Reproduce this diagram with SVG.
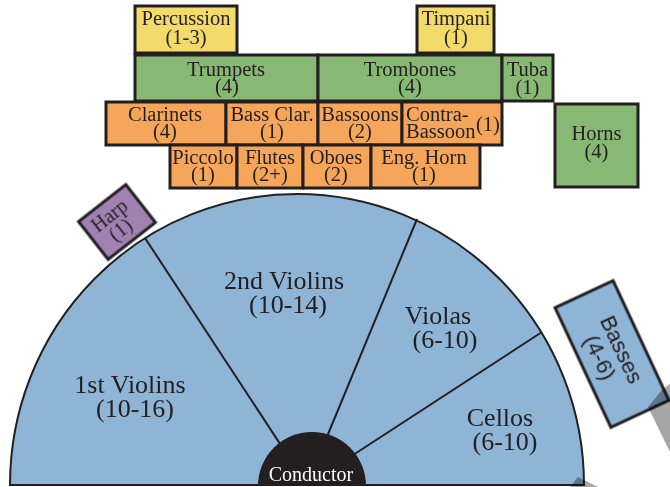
<svg xmlns="http://www.w3.org/2000/svg" width="670" height="487" viewBox="0 0 670 487">
<style>
.box{stroke:#231f20;stroke-width:3}
.yel{fill:#f2da6b}
.grn{fill:#87b874}
.org{fill:#f5a65b}
.t{font-family:"Liberation Serif","Times New Roman",serif;font-size:20.5px;fill:#231f20;text-anchor:middle}
.big{font-family:"Liberation Serif","Times New Roman",serif;font-size:26px;fill:#231f20;text-anchor:middle}
.div{stroke:#231f20;stroke-width:2;fill:none}
.shadow{fill:#a6a6a6;mix-blend-mode:multiply}
</style>
<rect width="670" height="487" fill="#ffffff"/>

<g id="stage">
<path d="M 10 485 A 287 291 0 0 1 584 485 Z" fill="#8eb4d6" stroke="#231f20" stroke-width="2"/>
</g>
<g id="connectors">
<line class="div" x1="307" y1="485" x2="145" y2="238"/>
<line class="div" x1="307" y1="485" x2="417" y2="219"/>
<line class="div" x1="307" y1="485" x2="542" y2="332"/>
</g>
<polygon class="shadow" points="570,487 578,477 598,487"/>

<g id="first-violins"><text class="big" x="130" y="393">1st Violins</text><text class="big" x="135" y="417">(10-16)</text></g>
<g id="second-violins"><text class="big" x="284" y="289">2nd Violins</text><text class="big" x="288" y="313">(10-14)</text></g>
<g id="violas"><text class="big" x="438" y="324">Violas</text><text class="big" x="445" y="348">(6-10)</text></g>
<g id="cellos"><text class="big" x="500" y="426">Cellos</text><text class="big" x="505" y="450">(6-10)</text></g>

<g id="conductor">
<path d="M 258 486 A 54 54 0 0 1 366 486 Z" fill="#231f20"/>
<text x="311" y="481" font-family="Liberation Serif, Times New Roman, serif" font-size="20" fill="#ffffff" text-anchor="middle">Conductor</text>
</g>

<g id="percussion"><rect class="box yel" x="135" y="6" width="102" height="47"/><text class="t" x="186" y="25">Percussion</text><text class="t" x="186" y="44">(1-3)</text></g>
<g id="timpani"><rect class="box yel" x="417" y="6" width="77" height="47"/><text class="t" x="456" y="25">Timpani</text><text class="t" x="456" y="44">(1)</text></g>

<g id="trumpets"><rect class="box grn" x="135" y="55" width="183" height="46"/><text class="t" x="226" y="76">Trumpets</text><text class="t" x="227" y="93">(4)</text></g>
<g id="trombones"><rect class="box grn" x="318" y="55" width="184" height="46"/><text class="t" x="410" y="76">Trombones</text><text class="t" x="410" y="93">(4)</text></g>
<g id="tuba"><rect class="box grn" x="502" y="55" width="51" height="46"/><text class="t" x="527.5" y="76">Tuba</text><text class="t" x="527.5" y="94">(1)</text></g>
<g id="horns"><rect class="box grn" x="555" y="104" width="83" height="83"/><text class="t" x="596.5" y="140">Horns</text><text class="t" x="596.5" y="158">(4)</text></g>

<g id="clarinets"><rect class="box org" x="106" y="102" width="120" height="43"/><text class="t" x="165" y="121">Clarinets</text><text class="t" x="165" y="138">(4)</text></g>
<g id="bass-clarinet"><rect class="box org" x="226" y="102" width="92" height="43"/><text class="t" x="272" y="121">Bass Clar.</text><text class="t" x="272" y="138">(1)</text></g>
<g id="bassoons"><rect class="box org" x="318" y="102" width="84" height="43"/><text class="t" x="360" y="121">Bassoons</text><text class="t" x="360" y="138">(2)</text></g>
<g id="contrabassoon"><rect class="box org" x="402" y="102" width="100" height="43"/><text class="t" x="406" y="121" style="text-anchor:start">Contra-</text><text class="t" x="406" y="138" style="text-anchor:start">Bassoon</text><text class="t" x="476" y="131" style="text-anchor:start">(1)</text></g>

<g id="piccolo"><rect class="box org" x="170" y="145" width="67" height="43"/><text class="t" x="203" y="164">Piccolo</text><text class="t" x="203" y="181">(1)</text></g>
<g id="flutes"><rect class="box org" x="237" y="145" width="66" height="43"/><text class="t" x="270" y="164">Flutes</text><text class="t" x="270" y="181">(2+)</text></g>
<g id="oboes"><rect class="box org" x="303" y="145" width="68" height="43"/><text class="t" x="336" y="164">Oboes</text><text class="t" x="336" y="181">(2)</text></g>
<g id="english-horn"><rect class="box org" x="371" y="145" width="109" height="43"/><text class="t" x="424" y="164">Eng. Horn</text><text class="t" x="424" y="181">(1)</text></g>

<g id="harp" transform="translate(117 222) rotate(-38)">
<rect class="box" x="-30" y="-24" width="60" height="48" fill="#a082b2"/>
<text class="t" x="-2" y="-3" style="font-size:20px">Harp</text>
<text class="t" x="-2" y="15" style="font-size:20px">(1)</text>
</g>

<g id="basses" transform="translate(612 354) rotate(65)">
<rect class="box" x="-66" y="-32" width="132" height="64" fill="#8eb4d6"/>
<text x="0" y="-3" font-family="Liberation Sans, Arial, sans-serif" font-size="22" fill="#231f20" text-anchor="middle">Basses</text>
<text x="-2" y="20" font-family="Liberation Sans, Arial, sans-serif" font-size="22" fill="#231f20" text-anchor="middle">(4-6)</text>
</g>
<polygon class="shadow" points="648,407 662,390 670,384 670,452"/>
</svg>
